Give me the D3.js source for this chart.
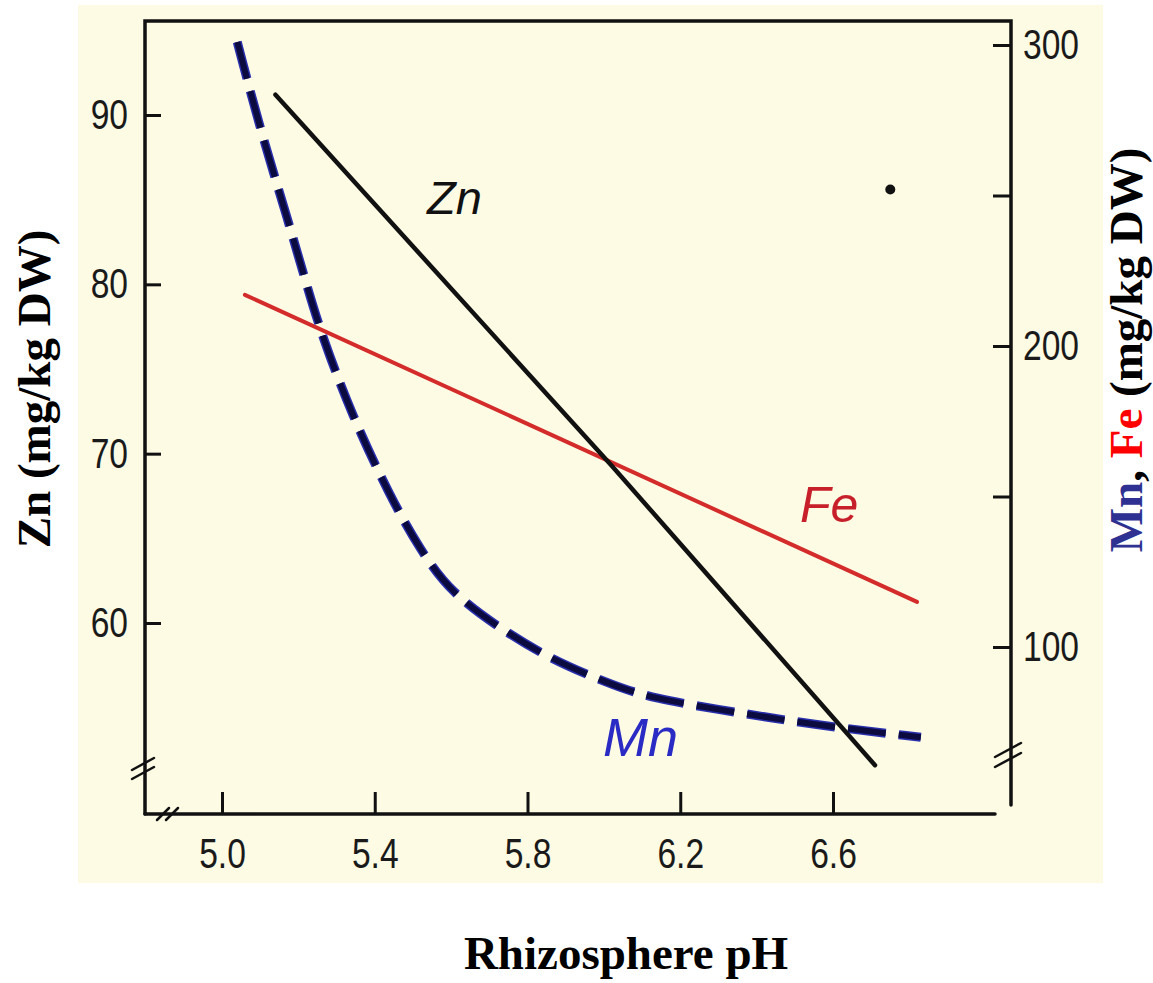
<!DOCTYPE html>
<html>
<head>
<meta charset="utf-8">
<script src="https://cdn.jsdelivr.net/npm/d3@7"></script>
<style>
  html, body { margin: 0; padding: 0; background: #fff; }
  svg { display: block; }
  .tick-label { font-family: "Liberation Sans", sans-serif; font-size: 42px; fill: #1a1a1a; }
  .title { font-family: "Liberation Serif", "Times New Roman", serif; font-weight: bold; font-size: 47px; }
  .hand { font-family: "Liberation Sans", sans-serif; font-style: italic; }
</style>
</head>
<body>
<div id="chart"></div>
<script>
// rhizosphere pH vs. micronutrient concentration (scanned figure)
const phTicks = [5.0, 5.4, 5.8, 6.2, 6.6];
const znTicks = [60, 70, 80, 90];
const mnFeTicks = [100, 150, 200, 250, 300];
const mnFeLabelled = [100, 200, 300];

// Zn, left axis
const znPH = [5.14, 6.02, 6.71];
const znVal = [91.2, 69.3, 51.6];

// Fe, right axis
const fePH = [5.06, 6.82];
const feVal = [217, 115];

// Mn, right axis
const mnPH = [5.04, 5.10, 5.17, 5.22, 5.26, 5.34, 5.44, 5.52, 5.60, 5.73, 5.86, 6.01, 6.12, 6.36, 6.56, 6.83];
const mnVal = [301, 272, 243, 221, 204, 177, 150, 132, 118, 106, 96, 88, 83, 78, 74, 70];

const W = 1153, H = 983;
const frame = { left: 145, right: 1011, top: 21, bottom: 814 };
const squeeze = 0.8; // the scan uses a condensed lettering

const svg = d3.select('#chart').append('svg')
    .attr('width', W)
    .attr('height', H);

// paper
svg.append('rect')
    .attr('x', 78).attr('y', 5)
    .attr('width', 1025).attr('height', 878)
    .attr('fill', '#fdfbe4');

const x = d3.scaleLinear().domain([5.0, 6.6]).range([222, 833]);
const yZn = d3.scaleLinear().domain([60, 90]).range([623, 115]);
const yMn = d3.scaleLinear().domain([100, 300]).range([647, 45]);

// frame lines
const ax = svg.append('g')
    .attr('stroke', '#111')
    .attr('stroke-width', 3.5)
    .attr('fill', 'none')
    .attr('stroke-linecap', 'round');

ax.append('path').attr('d', `M${frame.left},${frame.bottom}V${frame.top}H${frame.right}V805`);
ax.append('path').attr('d', `M${frame.left},${frame.bottom}H995`);

// axis break marks
const breaks = [
    { cx: frame.left - 2, cy: 764, dx: 11, dy: 6 },
    { cx: frame.left - 2, cy: 773, dx: 11, dy: 6 },
    { cx: frame.right - 3, cy: 750, dx: 13, dy: 7 },
    { cx: frame.right - 3, cy: 760, dx: 13, dy: 7 },
    { cx: 163, cy: frame.bottom, dx: 6, dy: 6 },
    { cx: 172, cy: frame.bottom, dx: 6, dy: 6 }
];
ax.selectAll('line.brk')
    .data(breaks)
    .join('line')
    .attr('class', 'brk')
    .attr('stroke-width', 2.5)
    .attr('x1', d => d.cx - d.dx).attr('y1', d => d.cy + d.dy)
    .attr('x2', d => d.cx + d.dx).attr('y2', d => d.cy - d.dy);

// axes (ticks point inward)
const styleAxis = g => {
    g.select('.domain').remove();
    g.selectAll('.tick line').attr('stroke', '#111').attr('stroke-width', 3);
    g.selectAll('.tick text')
        .attr('class', 'tick-label')
        .attr('font-size', null).attr('font-family', null).attr('fill', null)
        .attr('x', function() { return (+this.getAttribute('x') || 0) / squeeze; })
        .attr('transform', `scale(${squeeze},1)`);
};

svg.append('g')
    .attr('transform', `translate(${frame.left},0)`)
    .call(d3.axisLeft(yZn).tickValues(znTicks).tickSize(-16).tickPadding(17).tickFormat(d3.format('d')))
    .call(styleAxis);

svg.append('g')
    .attr('transform', `translate(${frame.right},0)`)
    .call(d3.axisRight(yMn).tickValues(mnFeTicks).tickSize(-18).tickPadding(12)
        .tickFormat(d => mnFeLabelled.includes(d) ? d3.format('d')(d) : ''))
    .call(styleAxis);

svg.append('g')
    .attr('transform', `translate(0,${frame.bottom})`)
    .call(d3.axisBottom(x).tickValues(phTicks).tickSize(-22).tickPadding(24).tickFormat(d3.format('.1f')))
    .call(styleAxis);

// series
const znLine = d3.line().x(d => x(d[0])).y(d => yZn(d[1]));
const rLine = d3.line().x(d => x(d[0])).y(d => yMn(d[1]));
const mnLine = d3.line().x(d => x(d[0])).y(d => yMn(d[1])).curve(d3.curveBasis);

svg.append('path')
    .datum(fePH.map((p, i) => [p, feVal[i]]))
    .attr('d', rLine)
    .attr('fill', 'none')
    .attr('stroke', '#d42b2b')
    .attr('stroke-width', 4)
    .attr('stroke-linecap', 'round');

const mnData = mnPH.map((p, i) => [p, mnVal[i]]);
svg.append('path')
    .datum(mnData)
    .attr('d', mnLine)
    .attr('fill', 'none')
    .attr('stroke', '#2a2fae')
    .attr('stroke-width', 9)
    .attr('stroke-dasharray', '38 13');
svg.append('path')
    .datum(mnData)
    .attr('d', mnLine)
    .attr('fill', 'none')
    .attr('stroke', '#0b0b40')
    .attr('stroke-width', 6)
    .attr('stroke-dasharray', '38 13');

svg.append('path')
    .datum(znPH.map((p, i) => [p, znVal[i]]))
    .attr('d', znLine)
    .attr('fill', 'none')
    .attr('stroke', '#111')
    .attr('stroke-width', 4.5)
    .attr('stroke-linecap', 'round');

// stray dot on the scan
svg.append('circle')
    .attr('cx', x(6.75)).attr('cy', yMn(252))
    .attr('r', 5).attr('fill', '#111');

// hand lettered series names
svg.append('text').attr('class', 'hand')
    .attr('x', 427).attr('y', 214).attr('font-size', 47).attr('fill', '#111').text('Zn');
svg.append('text').attr('class', 'hand')
    .attr('x', 800).attr('y', 522).attr('font-size', 50).attr('fill', '#c8202a').text('Fe');
svg.append('text').attr('class', 'hand')
    .attr('x', 603).attr('y', 756).attr('font-size', 54).attr('fill', '#2a2ac4').text('Mn');

// titles
svg.append('text').attr('class', 'title')
    .attr('transform', 'translate(50,389) rotate(-90)')
    .attr('text-anchor', 'middle')
    .attr('fill', '#000')
    .text('Zn (mg/kg DW)');

const rt = svg.append('text').attr('class', 'title')
    .attr('transform', 'translate(1142,350) rotate(-90)')
    .attr('text-anchor', 'middle');
rt.append('tspan').attr('fill', '#2e3192').text('Mn');
rt.append('tspan').attr('fill', '#000').text(', ');
rt.append('tspan').attr('fill', '#ff0000').text('Fe');
rt.append('tspan').attr('fill', '#000').text(' (mg/kg DW)');

svg.append('text').attr('class', 'title')
    .attr('x', 626).attr('y', 969)
    .attr('text-anchor', 'middle')
    .attr('fill', '#000')
    .text('Rhizosphere pH');
</script>
</body>
</html>
